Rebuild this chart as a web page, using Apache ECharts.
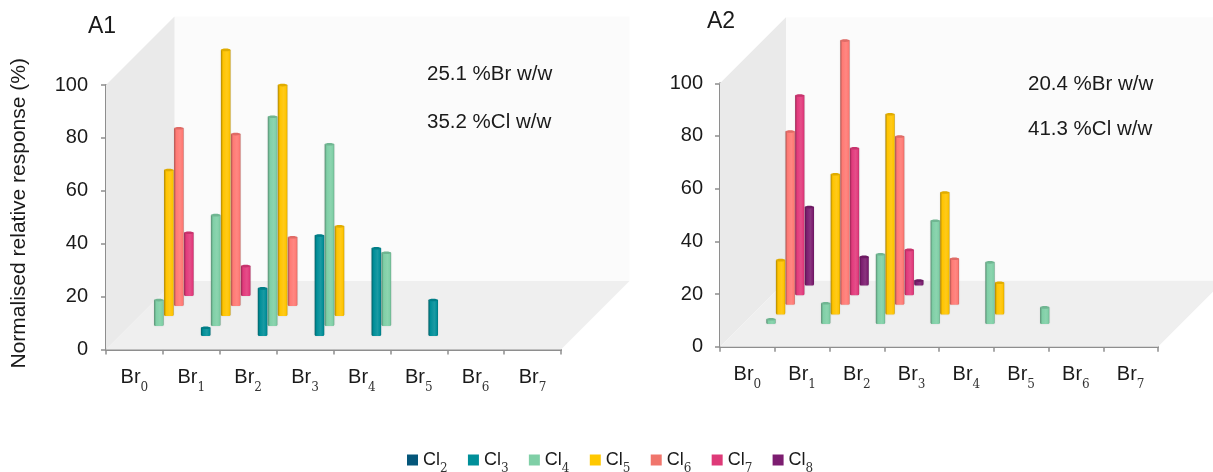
<!DOCTYPE html>
<html><head><meta charset="utf-8">
<style>html,body{margin:0;padding:0;background:#fff}#c{width:1213px;height:472px}</style>
<script src="https://cdn.jsdelivr.net/npm/echarts@6/dist/echarts.min.js"></script>
</head><body><div id="c"></div>
<script>
const categories = ['Br0','Br1','Br2','Br3','Br4','Br5','Br6','Br7'];
const yTicks = [0,20,40,60,80,100];
const seriesNames = ['Cl2','Cl3','Cl4','Cl5','Cl6','Cl7','Cl8'];
const colors = ['#04567a','#008f99','#7fcfa6','#ffc400','#ff7a74','#e23a7c','#7c1d70'];
const legendColors = ['#04567a','#008f99','#7fcfa6','#ffc800','#f0756c','#de3a78','#7c1d70'];

const a1Cl2 = [null,null,null,null,null,null,null,null];
const a1Cl3 = [null,3.1,18,38,33.2,13.6,null,null];
const a1Cl4 = [9.8,41.9,79.1,68.7,27.7,null,null,null];
const a1Cl5 = [55.2,100.6,87.3,33.9,null,null,null,null];
const a1Cl6 = [67.2,65,26,null,null,null,null,null];
const a1Cl7 = [23.9,11.3,null,null,null,null,null,null];
const a1Cl8 = [null,null,null,null,null,null,null,null];

const a2Cl2 = [null,null,null,null,null,null,null,null];
const a2Cl3 = [null,null,null,null,null,null,null,null];
const a2Cl4 = [1.8,7.9,26.5,39.2,23.4,6.3,null,null];
const a2Cl5 = [20.6,53.2,76,46.3,12,null,null,null];
const a2Cl6 = [65.8,100.3,63.9,17.5,null,null,null,null];
const a2Cl7 = [75.8,55.8,17.2,null,null,null,null,null];
const a2Cl8 = [29.8,10.9,1.9,null,null,null,null,null];

const panelA1 = [a1Cl2,a1Cl3,a1Cl4,a1Cl5,a1Cl6,a1Cl7,a1Cl8];
const panelA2 = [a2Cl2,a2Cl3,a2Cl4,a2Cl5,a2Cl6,a2Cl7,a2Cl8];

const SANS = '"Liberation Sans", Arial, sans-serif';
const SERIF = '"DejaVu Serif", serif';
const TXT = '#1a1a1a';

function shade(hex, f){
  const n = parseInt(hex.slice(1),16);
  const c = [n>>16,(n>>8)&255,n&255].map(v=>Math.round(f<1? v*f : v+(255-v)*(f-1)));
  return 'rgb('+c.join(',')+')';
}
function subLabel(v){ return '{a|'+v.replace(/\d/,'')+'}{s|'+v.replace(/\D/g,'')+'}'; }

function wallSeries(gridIndex, depth){
  return {
    type:'custom', xAxisIndex:gridIndex, yAxisIndex:gridIndex, silent:true, z:1, clip:false,
    tooltip:{show:false}, legendHoverLink:false,
    encode:{x:0,y:1}, data:[[0,0]],
    renderItem(params, api){
      const band = api.size([1,0])[0];
      const a = api.coord([0,0]), b = api.coord([categories.length-1,0]), t = api.coord([0,100]);
      const x0 = a[0]-band/2, x1 = b[0]+band/2, y0 = a[1], y1 = t[1], d = depth;
      const poly = (pts,fill)=>({type:'polygon',shape:{points:pts},style:{fill,stroke:null}});
      return {type:'group',children:[
        poly([[x0+d,y0-d],[x1+d,y0-d],[x1+d,y1-d],[x0+d,y1-d]],'#fbfbfb'),
        poly([[x0,y0],[x0,y1],[x0+d,y1-d],[x0+d,y0-d]],'#eaeaea'),
        poly([[x0,y0],[x1,y0],[x1+d,y0-d],[x0+d,y0-d]],'#efefef')
      ]};
    }
  };
}

function barSeries(gridIndex, idx, values, step, barW){
  const col = colors[idx];
  return {
    name:seriesNames[idx], type:'custom', xAxisIndex:gridIndex, yAxisIndex:gridIndex,
    z:20-idx, clip:false, itemStyle:{color:legendColors[idx]},
    encode:{x:0,y:1},
    data:values.map((v,i)=>[i,v]),
    renderItem(params, api){
      const v = api.value(1);
      if (v==null || isNaN(v)) return null;
      const cat = api.value(0);
      const base = api.coord([cat,0]), top = api.coord([cat,v]);
      const dx = 4.4+step*idx, dy = 3.5+step*idx;
      const x = base[0]+dx-barW/2, yb = base[1]-dy, yt = top[1]-dy;
      const grad = {type:'linear',x:0,y:0,x2:1,y2:0,colorStops:[
        {offset:0,color:shade(col,0.68)},{offset:0.22,color:col},
        {offset:0.62,color:shade(col,1.1)},{offset:0.88,color:col},{offset:1,color:shade(col,0.8)}]};
      return {type:'group',children:[
        {type:'rect',shape:{x,y:yt,width:barW,height:yb-yt,r:[0,0,1.5,1.5]},style:{fill:grad,shadowBlur:1.5,shadowColor:'rgba(0,0,0,0.15)'}},
        {type:'ellipse',shape:{cx:x+barW/2,cy:yt,rx:barW/2,ry:1.3},style:{fill:shade(col,0.88)}}
      ]};
    }
  };
}

function xAxisFor(gridIndex){
  return {
    type:'category', gridIndex, data:categories, boundaryGap:true,
    axisLine:{lineStyle:{color:'#8e8e8e',width:2}},
    axisTick:{show:true,length:5,alignWithLabel:false,lineStyle:{color:'#8e8e8e',width:1.5}},
    axisLabel:{interval:0,margin:18,formatter:subLabel,rich:{
      a:{fontFamily:SANS,fontSize:20,color:TXT},
      s:{fontFamily:SERIF,fontSize:12,color:'#333',verticalAlign:'bottom',padding:[0,0,-6,0]}}}
  };
}
function yAxisFor(gridIndex){
  return {
    type:'value', gridIndex, min:yTicks[0], max:yTicks[yTicks.length-1], interval:yTicks[1]-yTicks[0],
    splitLine:{show:false},
    axisLine:{show:true,lineStyle:{color:'#8e8e8e',width:2}},
    axisTick:{show:true,length:5,lineStyle:{color:'#8e8e8e',width:1.5}},
    axisLabel:{margin:gridIndex===0?18:17,fontFamily:SANS,fontSize:20,color:TXT},
    ...(gridIndex===0?{name:'Normalised relative response (%)',nameLocation:'middle',nameGap:76,
      nameTextStyle:{fontFamily:SANS,fontSize:21,color:TXT,padding:[0,0,0,8]}}:{})
  };
}
function note(text,left,top,size){
  return {text,left,top,textStyle:{fontFamily:SANS,fontSize:size,fontWeight:'normal',color:TXT},padding:0};
}

const series = [wallSeries(0,68.5), wallSeries(1,66)];
panelA1.forEach((vals,i)=>series.push(barSeries(0,i,vals,10,9.6)));
panelA2.forEach((vals,i)=>series.push(barSeries(1,i,vals,9.6,9.3)));

const chart = echarts.init(document.getElementById('c'),null,{renderer:'canvas'});
chart.setOption({
  animation:false, backgroundColor:'#fff',
  title:[
    note('A1',88,15.5,23), note('25.1 %Br w/w',427,64,20.5), note('35.2 %Cl w/w',427,112,20.5),
    note('A2',707,10.5,23), note('20.4 %Br w/w',1028,74,20.5), note('41.3 %Cl w/w',1028,119,20.5)
  ],
  grid:[
    {left:106,top:85,width:455,height:264.5,containLabel:false,outerBoundsMode:'none'},
    {left:720,top:83.3,width:438,height:263.4,containLabel:false,outerBoundsMode:'none'}
  ],
  xAxis:[xAxisFor(0),xAxisFor(1)],
  yAxis:[yAxisFor(0),yAxisFor(1)],
  legend:{
    data:seriesNames, left:407, top:451, itemWidth:11, itemHeight:11, itemGap:20.3,
    icon:'rect', padding:0, selectedMode:false,
    formatter:subLabel,
    textStyle:{rich:{
      a:{fontFamily:SANS,fontSize:18,color:TXT},
      s:{fontFamily:SERIF,fontSize:12,color:'#333',verticalAlign:'bottom',padding:[0,0,-6,0]}}}
  },
  series
});
</script></body></html>
